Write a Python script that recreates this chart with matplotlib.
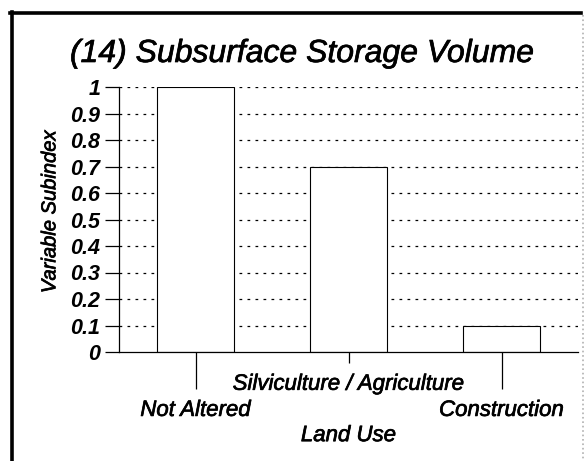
import matplotlib
matplotlib.use('Agg')
import matplotlib.pyplot as plt
import matplotlib.patheffects as pe
from matplotlib.lines import Line2D
import numpy as np

plt.rcParams['font.family'] = 'Liberation Sans'

#data
land_use = ['Not Altered', 'Silviculture / Agriculture', 'Construction']
subindex = [1.0, 0.7, 0.1]
yticks = [0, 0.1, 0.2, 0.3, 0.4, 0.5, 0.6, 0.7, 0.8, 0.9, 1]
ytick_labels = ['0', '0.1', '0.2', '0.3', '0.4', '0.5', '0.6', '0.7', '0.8', '0.9', '1']

W, H = 587, 461
fig = plt.figure(figsize=(W/100, H/100), dpi=100)
ax = fig.add_axes([119/W, 1-352/H, (578-119)/W, (352-87)/H])

#scanned text looks a bit heavier than regular weight
heavy = [pe.withStroke(linewidth=0.5, foreground='black')]

x = np.arange(len(land_use))
for yv in yticks[1:]:
    ax.axhline(yv, color='black', linewidth=0.9, dashes=(2.2, 4.2), zorder=1)
ax.bar(x, subindex, width=0.5, color='white', edgecolor='black', linewidth=0.8, zorder=2)

ax.set_xlim(-0.5, 2.5)
ax.set_ylim(0, 1)
ax.spines['top'].set_visible(False)
ax.spines['right'].set_visible(False)
ax.spines['left'].set_linewidth(0.9)
ax.spines['bottom'].set_linewidth(0.9)

ax.set_yticks(yticks)
ax.set_yticklabels(ytick_labels, fontsize=15.5, fontweight='bold', fontstyle='italic')
ax.tick_params(axis='y', direction='out', length=10, width=0.9, pad=3.5)

ax.set_xticks(x)
ax.set_xticklabels(land_use, fontsize=16, fontstyle='italic')
ax.tick_params(axis='x', direction='out', width=0.9)
#staggered labels: long ticks for the outer labels, short one for the middle
tick_len = [26.5, 8.2, 26.5]
tick_pad = [8, 7.5, 8]
for t, ln, pd in zip(ax.xaxis.get_major_ticks(), tick_len, tick_pad):
    t._apply_params(size=ln, pad=pd)
for lbl in ax.get_xticklabels():
    lbl.set_path_effects(heavy)

ax.set_ylabel('Variable Subindex', fontsize=14.5, fontstyle='italic', path_effects=heavy)
ax.yaxis.set_label_coords(-0.13, 0.53)
ax.set_xlabel('Land Use', fontsize=16, fontstyle='italic', va='top', path_effects=heavy)
ax.xaxis.set_label_coords(0.5, -0.276)

fig.text(302/W, 1-54/H, '(14) Subsurface Storage Volume', fontsize=23, fontstyle='italic',
         ha='center', va='center', path_effects=heavy)

#frame around the chart, like the scanned page
fig.add_artist(Line2D([10/W, 581/W], [1-13.5/H, 1-13.5/H], color='black', linewidth=2.6))
fig.add_artist(Line2D([11.5/W, 11.5/W], [1-12/H, 0], color='black', linewidth=2.6))
fig.add_artist(Line2D([583/W, 583/W], [1-15/H, 0], color='#b0b0b0', linewidth=1.2, linestyle=':'))

fig.savefig('out.png', dpi=100)
